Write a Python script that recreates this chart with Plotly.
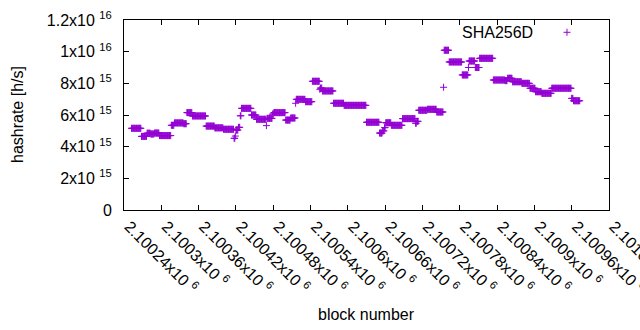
import plotly.graph_objects as go

# Segments of consecutive blocks sharing the same estimated hashrate (values in 1e15 h/s)
seg_start = [2100252, 2100268, 2100277, 2100283, 2100289, 2100297, 2100316, 2100321, 2100336, 2100341,
             2100350, 2100372, 2100386, 2100400, 2100417, 2100419, 2100420, 2100424, 2100427, 2100429,
             2100445, 2100453, 2100469, 2100470, 2100479, 2100481, 2100500, 2100508, 2100516, 2100517,
             2100532, 2100543, 2100555, 2100556, 2100559, 2100577, 2100594, 2100630, 2100651, 2100656,
             2100659, 2100661, 2100670, 2100688, 2100709, 2100711, 2100714, 2100728, 2100743, 2100754,
             2100755, 2100763, 2100784, 2100794, 2100795, 2100805, 2100812, 2100834, 2100853, 2100857,
             2100865, 2100880, 2100893, 2100902, 2100912, 2100928, 2100960, 2100963]
seg_end = [2100267, 2100276, 2100282, 2100288, 2100296, 2100315, 2100320, 2100335, 2100340, 2100349,
           2100371, 2100385, 2100399, 2100416, 2100418, 2100419, 2100423, 2100426, 2100428, 2100444,
           2100452, 2100468, 2100469, 2100478, 2100480, 2100499, 2100507, 2100515, 2100516, 2100531,
           2100542, 2100554, 2100555, 2100558, 2100576, 2100593, 2100629, 2100650, 2100655, 2100658,
           2100660, 2100669, 2100687, 2100708, 2100710, 2100713, 2100727, 2100742, 2100753, 2100754,
           2100762, 2100783, 2100793, 2100794, 2100804, 2100811, 2100833, 2100852, 2100856, 2100864,
           2100879, 2100892, 2100901, 2100911, 2100927, 2100959, 2100962, 2100973]
seg_value = [5.16, 4.65, 4.85, 4.80, 4.86, 4.70, 5.35, 5.50, 5.45, 6.15,
             5.94, 5.30, 5.19, 5.10, 4.53, 4.67, 5.05, 5.22, 5.95, 6.42,
             6.00, 5.73, 5.33, 5.79, 6.06, 6.15, 5.68, 5.81, 6.74, 6.99,
             6.84, 8.13, 7.62, 7.70, 7.52, 6.74, 6.61, 5.54, 4.86, 5.00,
             5.20, 5.51, 5.35, 5.77, 5.48, 5.60, 6.30, 6.36, 6.19, 7.75,
             10.09, 9.35, 8.53, 9.00, 9.41, 9.00, 9.58, 8.21, 8.17, 8.32,
             8.10, 8.00, 7.69, 7.47, 7.37, 7.69, 7.05, 6.90]

x_tick_vals = [2100240, 2100300, 2100360, 2100420, 2100480, 2100540, 2100600,
               2100660, 2100720, 2100780, 2100840, 2100900, 2100960, 2101020]
x_tick_text = ["2.10024x10 <sup>6</sup>", "2.1003x10 <sup>6</sup>", "2.10036x10 <sup>6</sup>",
               "2.10042x10 <sup>6</sup>", "2.10048x10 <sup>6</sup>", "2.10054x10 <sup>6</sup>",
               "2.1006x10 <sup>6</sup>", "2.10066x10 <sup>6</sup>", "2.10072x10 <sup>6</sup>",
               "2.10078x10 <sup>6</sup>", "2.10084x10 <sup>6</sup>", "2.1009x10 <sup>6</sup>",
               "2.10096x10 <sup>6</sup>", "2.10102x10 <sup>6</sup>"]
y_tick_vals = [0, 2e15, 4e15, 6e15, 8e15, 1e16, 1.2e16]
y_tick_text = ["0", "2x10 <sup>15</sup>", "4x10 <sup>15</sup>", "6x10 <sup>15</sup>",
               "8x10 <sup>15</sup>", "1x10 <sup>16</sup>", "1.2x10 <sup>16</sup>"]

blocks = []
hashrate = []
for s, e, v in zip(seg_start, seg_end, seg_value):
    for b in range(s, e + 1):
        blocks.append(b)
        hashrate.append(v * 1e15)

COLOR = "#9400D3"
FONT = "Liberation Sans, Arial, sans-serif"

fig = go.Figure()
fig.add_trace(go.Scatter(
    x=blocks, y=hashrate, mode="markers", name="SHA256D",
    marker=dict(symbol="cross-thin", size=5, color=COLOR, line=dict(color=COLOR, width=1)),
))

axis_common = dict(
    ticks="inside", ticklen=5, tickcolor="black", tickwidth=1,
    showline=True, linecolor="black", linewidth=1, mirror="ticks",
    showgrid=False, zeroline=False, automargin=False,
    ticklabeloverflow="allow",
    tickfont=dict(family=FONT, size=16, color="black"),
)

fig.update_xaxes(range=[2100239.9, 2101020.1], tickmode="array", tickvals=x_tick_vals,
                 ticktext=x_tick_text, tickangle=45, ticklabelstandoff=0, ticklabelshift=5,
                 **axis_common)
fig.update_yaxes(range=[0, 1.2e16 * 1.00001], tickmode="array", tickvals=y_tick_vals,
                 ticktext=y_tick_text, ticklabelstandoff=8, **axis_common)

fig.update_layout(
    width=640, height=330,
    margin=dict(l=124, r=31, t=20, b=120, pad=0),
    plot_bgcolor="white", paper_bgcolor="white",
    showlegend=False,
    font=dict(family=FONT, size=16, color="black"),
    annotations=[
        dict(text="hashrate [h/s]", xref="paper", yref="paper", x=-0.2206, y=0.5,
             xanchor="center", yanchor="middle", textangle=-90, showarrow=False,
             font=dict(family=FONT, size=16, color="black")),
        dict(text="block number", xref="paper", yref="paper", x=0.5, y=-0.5526,
             xanchor="center", yanchor="middle", showarrow=False,
             font=dict(family=FONT, size=16, color="black")),
        dict(text="SHA256D", xref="paper", yref="paper", x=0.8480, y=0.9353,
             xanchor="right", yanchor="middle", showarrow=False,
             font=dict(family=FONT, size=16, color="black")),
    ],
    shapes=[
        dict(type="line", xref="paper", yref="paper", xsizemode="pixel", ysizemode="pixel",
             xanchor=0.9134, yanchor=0.9353, x0=-3.5, x1=3.5, y0=0, y1=0,
             line=dict(color=COLOR, width=1)),
        dict(type="line", xref="paper", yref="paper", xsizemode="pixel", ysizemode="pixel",
             xanchor=0.9134, yanchor=0.9353, x0=0, x1=0, y0=-3.5, y1=3.5,
             line=dict(color=COLOR, width=1)),
    ],
)

fig.write_html("out.html", config={"displayModeBar": False},
               post_script="document.body.style.margin='0';")
